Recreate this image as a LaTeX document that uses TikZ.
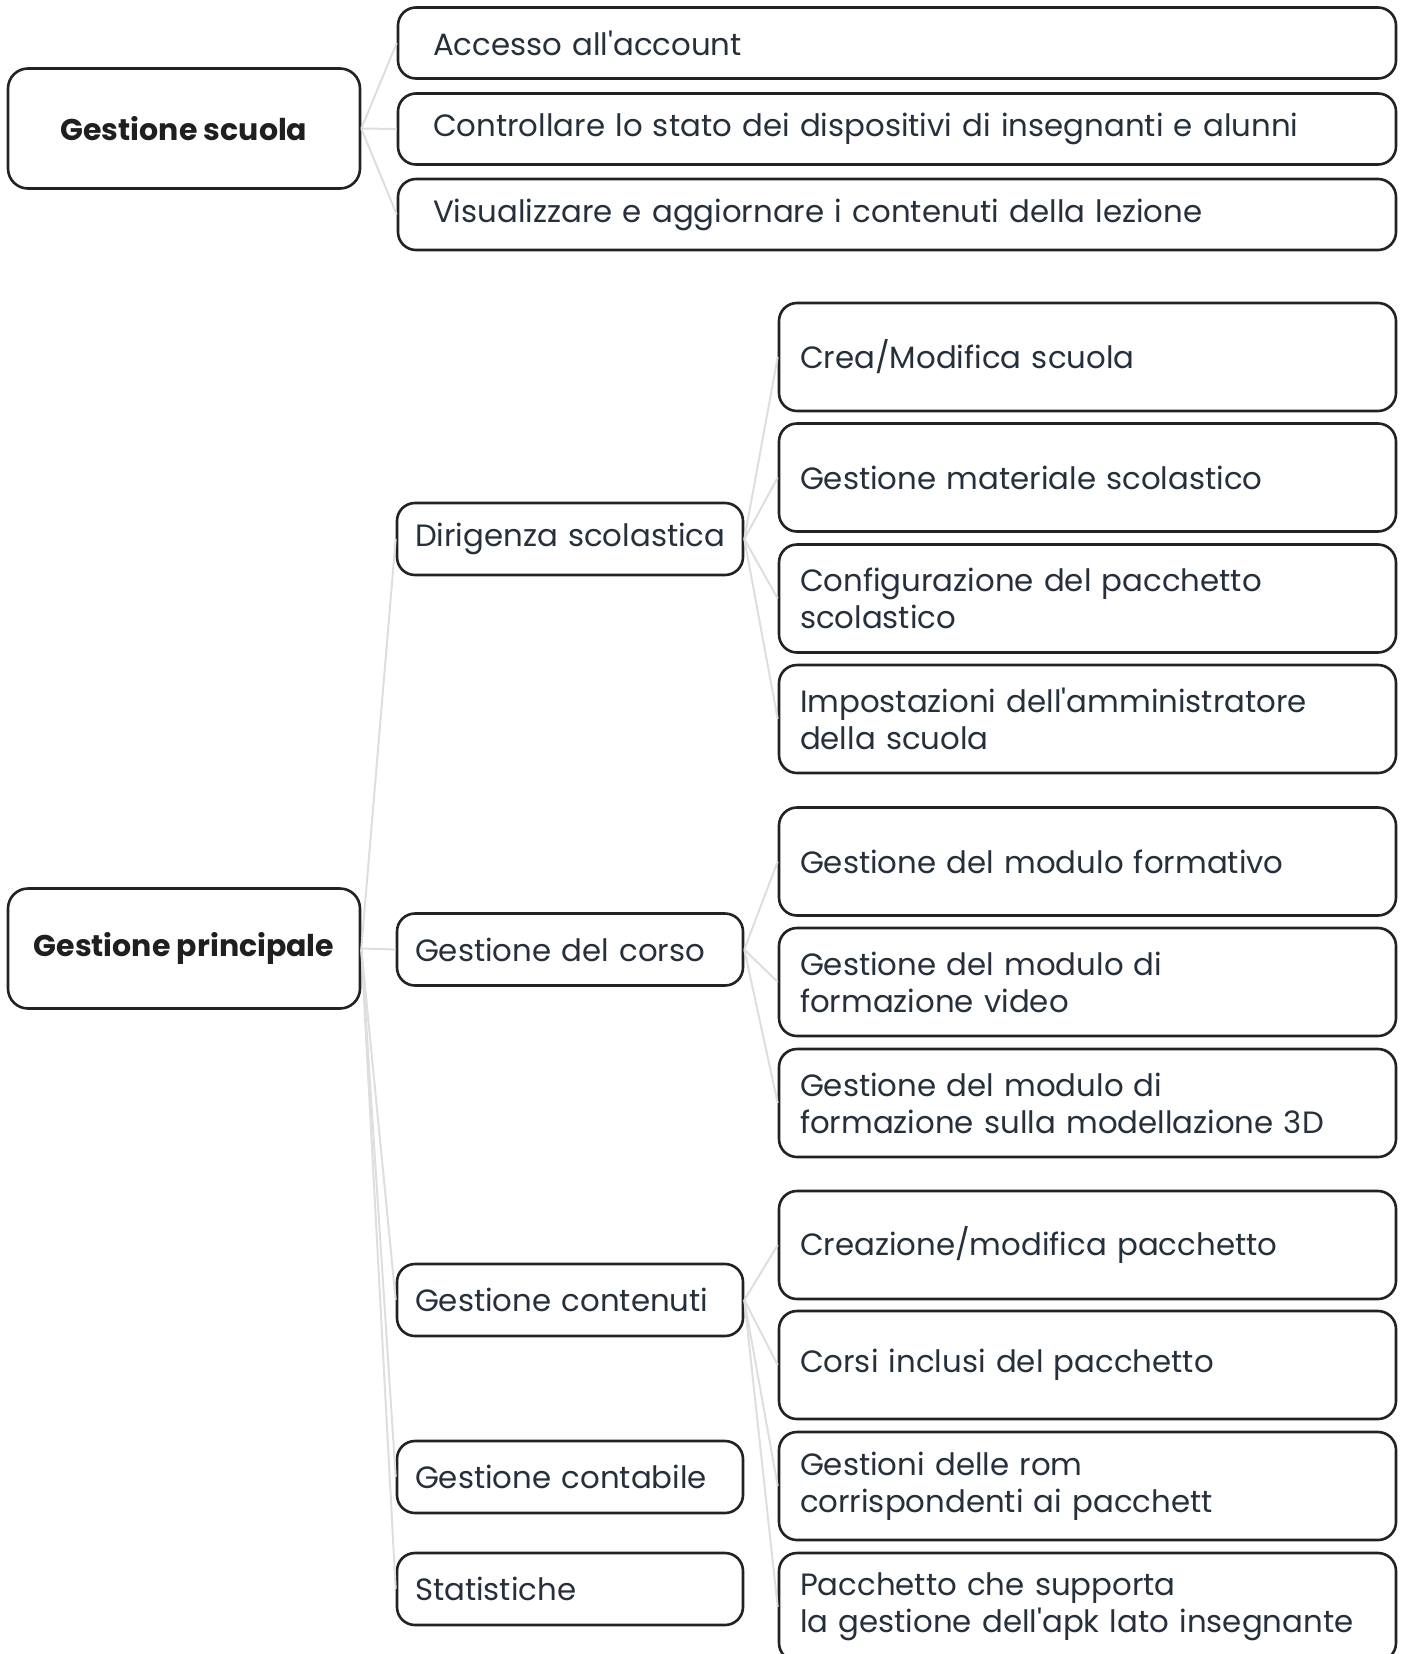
\documentclass[tikz,border=0pt]{standalone}
\usepackage{fontspec}
\setmainfont{Poppins}[Ligatures=TeXOff]
\definecolor{txt}{HTML}{26303C}
\definecolor{edge}{HTML}{DEDEDE}
\definecolor{frame}{HTML}{222222}
\hyphenpenalty=10000

\begin{document}
\begin{tikzpicture}[x=0.5pt,y=-0.5pt,
  box/.style={draw=frame, line width=1.3pt, fill=white, text=txt, font=\fontsize{15.4}{18.5}\selectfont},
  root/.style={box, rounded corners=10pt, minimum width=176pt, minimum height=60pt, font=\fontsize{15}{18.5}\selectfont\bfseries, text=black!88},
  task/.style={box, rounded corners=9pt, minimum height=35.5pt, inner xsep=17.5pt, text width=464pt, align=left},
  area/.style={box, rounded corners=9pt, minimum height=36pt, inner xsep=9pt, text width=155pt, align=left},
  item/.style={box, rounded corners=9pt, minimum height=54pt, inner xsep=10.5pt, text width=287.5pt, align=left},
  link/.style={draw=edge, line width=1pt}]
\useasboundingbox (0,0) rectangle (1402,1654);

% gestione scuola
\node[root] (gs) at (184,128.5) {Gestione scuola};
\node[task] (gs1) at (897,43) {Accesso all'account};
\node[task] (gs2) at (897,129) {Controllare lo stato dei dispositivi di insegnanti e alunni};
\node[task] (gs3) at (897,214.5) {Visualizzare e aggiornare i contenuti della lezione};

% gestione principale
\node[root] (gp) at (184,948.5) {Gestione principale};
\node[area] (dir) at (570,539) {\mbox{Dirigenza scolastica}};
\node[area] (cor) at (570,949.5) {Gestione del corso};
\node[area] (con) at (570,1300) {Gestione contenuti};
\node[area] (cnt) at (570,1477) {Gestione contabile};
\node[area] (sta) at (570,1589) {Statistiche};

% dirigenza
\node[item] (dir1) at (1087.5,357) {Crea/Modifica scuola};
\node[item] (dir2) at (1087.5,477.5) {Gestione materiale scolastico};
\node[item] (dir3) at (1087.5,598.5) {Configurazione del pacchetto\\scolastico};
\node[item] (dir4) at (1087.5,719) {Impostazioni dell'amministratore\\della scuola};

% corso
\node[item] (cor1) at (1087.5,861.5) {Gestione del modulo formativo};
\node[item] (cor2) at (1087.5,982) {Gestione del modulo di\\formazione video};
\node[item] (cor3) at (1087.5,1103) {Gestione del modulo di\\formazione sulla modellazione 3D};

% contenuti
\node[item] (con1) at (1087.5,1245) {Creazione/modifica pacchetto};
\node[item] (con2) at (1087.5,1365) {Corsi inclusi del pacchetto};
\node[item] (con3) at (1087.5,1486) {Gestioni delle rom\\corrispondenti ai pacchett};
\node[item] (con4) at (1087.5,1607) {Pacchetto che supporta\\la gestione dell'apk lato insegnante};

% links
\foreach \a/\b in {gs/gs1,gs/gs2,gs/gs3,gp/dir,gp/cor,gp/con,gp/cnt,gp/sta,
  dir/dir1,dir/dir2,dir/dir3,dir/dir4,cor/cor1,cor/cor2,cor/cor3,
  con/con1,con/con2,con/con3,con/con4}
  \draw[link] (\a.east) -- (\b.west);
\end{tikzpicture}
\end{document}
